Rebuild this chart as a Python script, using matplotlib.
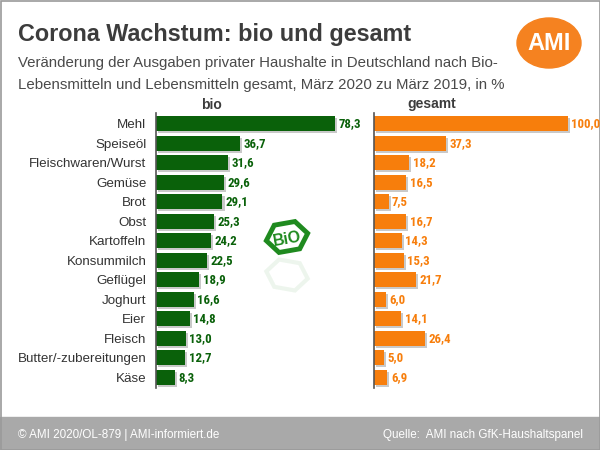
import numpy as np
import matplotlib
matplotlib.use("Agg")
import matplotlib.pyplot as plt
import matplotlib.patheffects as pe
from matplotlib.patches import Rectangle, Ellipse, Polygon

plt.rcParams['font.family'] = ['Liberation Sans', 'DejaVu Sans']

# data
categories = ["Mehl", "Speiseöl", "Fleischwaren/Wurst", "Gemüse", "Brot", "Obst",
              "Kartoffeln", "Konsummilch", "Geflügel", "Joghurt", "Eier", "Fleisch",
              "Butter/-zubereitungen", "Käse"]
bio = [78.3, 36.7, 31.6, 29.6, 29.1, 25.3, 24.2, 22.5, 18.9, 16.6, 14.8, 13.0, 12.7, 8.3]
gesamt = [100.0, 37.3, 18.2, 16.5, 7.5, 16.7, 14.3, 15.3, 21.7, 6.0, 14.1, 26.4, 5.0, 6.9]

green = "#0a610a"
orange = "#f77e0c"
W, H = 600, 450
num_font = ['Roboto Condensed', 'Liberation Sans Narrow', 'Liberation Sans', 'DejaVu Sans']

fig = plt.figure(figsize=(6, 4.5), dpi=100)

# background axes in pixel coords
bg = fig.add_axes([0, 0, 1, 1])
bg.set_xlim(0, W)
bg.set_ylim(H, 0)
bg.axis("off")
bg.add_patch(Rectangle((0, 417), W, 33, color="#a9a9a9", zorder=1))
bg.add_patch(Rectangle((0.5, 0.5), W - 1, H - 1, fill=False, ec="#9a9a9a", lw=1.2, zorder=3))

bg.text(18, 35, "Corona Wachstum: bio und gesamt", fontsize=16.8, fontweight="bold",
        color="#3c3c3c", va="center")
bg.text(18, 63, "Veränderung der Ausgaben privater Haushalte in Deutschland nach Bio-",
        fontsize=10.8, color="#4a4a4a", va="center")
bg.text(18, 85, "Lebensmitteln und Lebensmitteln gesamt, März 2020 zu März 2019, in %",
        fontsize=10.8, color="#4a4a4a", va="center")

bg.add_patch(Ellipse((549, 43), 64, 50, color="#f58220", zorder=2))
bg.text(549, 44, "AMI", fontsize=17, fontweight="bold", color="white",
        ha="center", va="center", zorder=3)

bg.text(211, 105, "bio", fontsize=10, fontweight="bold", color="#3c3c3c", ha="center", va="center")
bg.text(432, 104, "gesamt", fontsize=10, fontweight="bold", color="#3c3c3c", ha="center", va="center")

# bio logo: stretched, tilted hexagon with a faint reflection
ang = np.radians(np.arange(0, 360, 60))
tilt = np.radians(10)
hx, hy = 21 * np.cos(ang), 16 * np.sin(ang)
px = 287 + hx * np.cos(tilt) - hy * np.sin(tilt)
py = 237 - (hx * np.sin(tilt) + hy * np.cos(tilt))
bg.add_patch(Polygon(np.column_stack([px, py]), closed=True, fill=False,
                     ec="#1f8a1f", lw=3.5, joinstyle="miter", zorder=2))
bg.text(287, 239, "BiO", fontsize=11.5, fontweight="bold", color="#1f8a1f",
        ha="center", va="center", rotation=10)
py2 = 2 * 256 - py
bg.add_patch(Polygon(np.column_stack([px, py2]), closed=True, fill=False,
                     ec="#1f8a1f", lw=3, alpha=0.08, zorder=2))

bg.text(18, 435, "© AMI 2020/OL-879 | AMI-informiert.de", fontsize=8.4, color="white",
        va="center", zorder=4)
bg.text(583, 435, "Quelle:  AMI nach GfK-Haushaltspanel", fontsize=8.4, color="white",
        va="center", ha="right", zorder=4)

y = np.arange(len(categories))
bottom = 1 - 388 / H
height = 275 / H
shadow = [pe.SimplePatchShadow(offset=(1.5, -1.5), shadow_rgbFace="#888888", alpha=0.45), pe.Normal()]


def panel(left_px, width_px, px_per_unit, values, color):
    ax = fig.add_axes([left_px / W, bottom, width_px / W, height])
    ax.patch.set_alpha(0)
    bars = ax.barh(y, values, height=0.77, color=color, zorder=2)
    for b in bars:
        b.set_path_effects(shadow)
    ax.set_xlim(0, width_px / px_per_unit)
    ax.set_ylim(len(categories) - 0.45, -0.55)
    for s in ["top", "right", "bottom"]:
        ax.spines[s].set_visible(False)
    ax.spines["left"].set_color("#555555")
    ax.spines["left"].set_linewidth(1.2)
    ax.set_xticks([])
    ax.tick_params(axis="y", length=0, pad=8)
    for yi, v in zip(y, values):
        ax.text(v + 3.5 / px_per_unit, yi, f"{v:.1f}".replace(".", ","), fontsize=9.3,
                fontweight="bold", color=color, va="center", family=num_font)
    return ax


axl = panel(156, 200, 2.285, bio, green)
axl.set_yticks(y)
axl.set_yticklabels(categories, fontsize=9.6, color="#333333")
axl.tick_params(axis="y", pad=7)

axr = panel(374, 225, 1.94, gesamt, orange)
axr.set_yticks([])

fig.savefig("out.png", dpi=100)
